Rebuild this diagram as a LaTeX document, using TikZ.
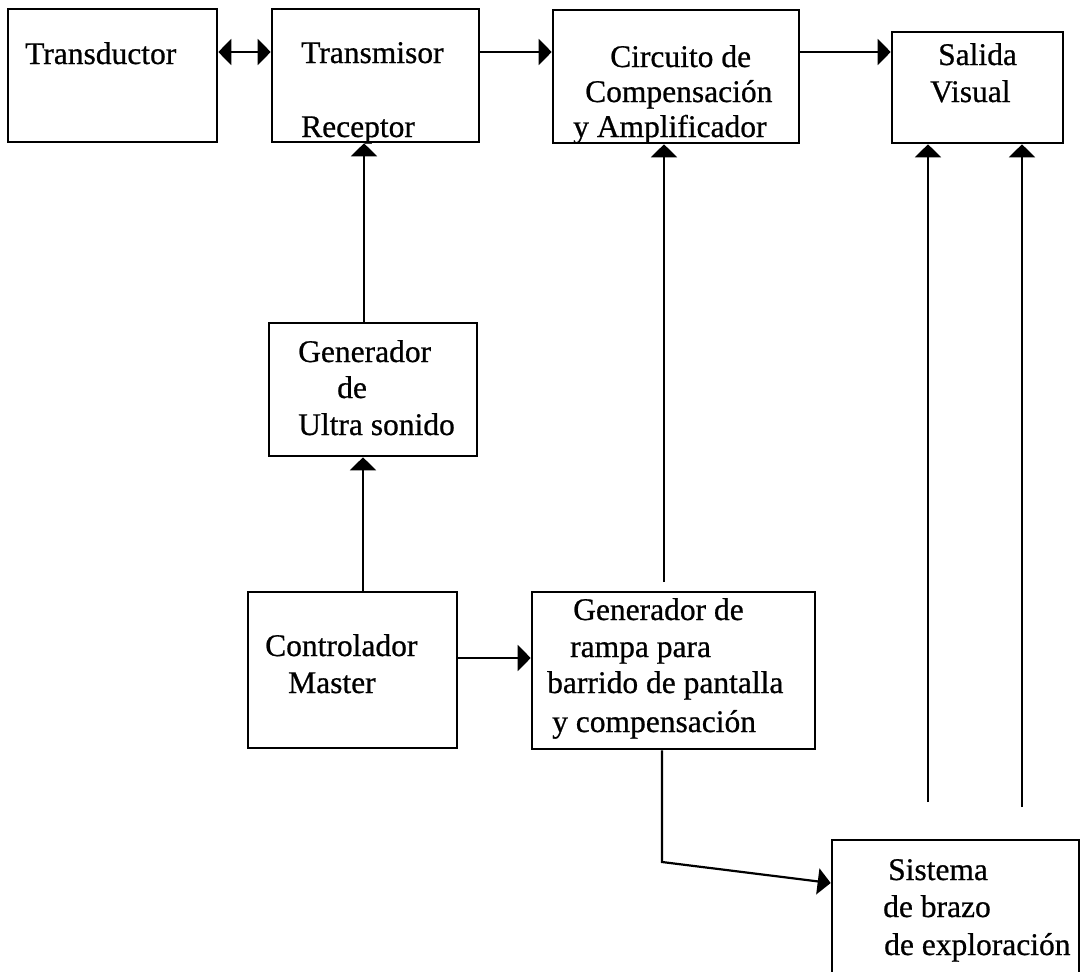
\documentclass[tikz,border=0pt]{standalone}
\usepackage{fontspec}
\setmainfont{Liberation Serif}
\newfontfamily\blocktext{Liberation Serif}[FakeBold=0.7]
\usetikzlibrary{arrows.meta}
\begin{document}
\begin{tikzpicture}[x=1pt, y=-1pt,
  blk/.style={draw, line width=2.6pt, rectangle, inner sep=0pt},
  lbl/.style={anchor=base west, inner sep=0pt, font=\blocktext\fontsize{31.5}{36}\selectfont},
  wire/.style={line width=2.2pt},
  arr/.style={wire, -{Triangle[length=13pt, width=26pt]}},
  biarr/.style={wire, {Triangle[length=13pt, width=26pt]}-{Triangle[length=13pt, width=26pt]}}]
\useasboundingbox (0,0) rectangle (1082,972);
\clip (0,0) rectangle (1082,972);

% blocks
\node[blk, minimum width=209pt, minimum height=133pt] (trans) at (112.5,75.5) {};
\node[blk, minimum width=207pt, minimum height=133pt] (txrx) at (375.5,75.5) {};
\node[blk, minimum width=246pt, minimum height=133pt] (circ) at (676,76.5) {};
\node[blk, minimum width=171pt, minimum height=111pt] (sal) at (977.5,87.5) {};
\node[blk, minimum width=208pt, minimum height=133pt] (gen) at (373,389.5) {};
\node[blk, minimum width=209pt, minimum height=156pt] (ctrl) at (352.5,670) {};
\node[blk, minimum width=283pt, minimum height=157pt] (ramp) at (673.5,670.5) {};
\node[blk, minimum width=247pt, minimum height=145pt] (sis) at (955.5,912.5) {};

% labels
\node[lbl] (tTrans) at (25,64) {Transductor};
\node[lbl] (tTx) at (301,63) {Transmisor};
\node[lbl] (tRx) at (301,137) {Receptor};
\node[lbl] (tCirc1) at (610,67) {Circuito de};
\node[lbl] (tCirc2) at (585,102) {Compensación};
\node[lbl] (tCirc3) at (573,137) {y Amplificador};
\node[lbl] (tSal1) at (938,65) {Salida};
\node[lbl] (tSal2) at (930,102) {Visual};
\node[lbl] (tGen1) at (298,362) {Generador};
\node[lbl] (tGen2) at (337,398) {de};
\node[lbl] (tGen3) at (298,435) {Ultra sonido};
\node[lbl] (tCtrl1) at (265,656) {Controlador};
\node[lbl] (tCtrl2) at (288,693) {Master};
\node[lbl] (tRamp1) at (573,620) {Generador de};
\node[lbl] (tRamp2) at (570,657) {rampa para};
\node[lbl] (tRamp3) at (547,693) {barrido de pantalla};
\node[lbl] (tRamp4) at (552,732) {y compensación};
\node[lbl] (tSis1) at (888,880) {Sistema};
\node[lbl] (tSis2) at (883,917) {de brazo};
\node[lbl] (tSis3) at (884,955) {de exploración};

% reference rows and columns for the connectors
\coordinate (row1) at (0,52);
\coordinate (row2) at (0,658);
\coordinate (row3) at (0,883);
\coordinate (colA) at (364,0);
\coordinate (colB) at (363,0);
\coordinate (rampTop) at (664,582);
\coordinate (bend) at (662,862);
\coordinate (armL) at (928,802);
\coordinate (armR) at (1022,807);

% connectors
\draw[biarr] (trans.east |- row1) -- (txrx.west |- row1);
\draw[arr] (txrx.east |- row1) -- (circ.west |- row1);
\draw[arr] (circ.east |- row1) -- (sal.west |- row1);
\draw[arr] (gen.north -| colA) -- (txrx.south -| colA);
\draw[arr] (ctrl.north -| colB) -- (gen.south -| colB);
\draw[arr] (ctrl.east |- row2) -- (ramp.west |- row2);
\draw[arr] (rampTop) -- (circ.south -| rampTop);
\draw[arr] (armL) -- (sal.south -| armL);
\draw[arr] (armR) -- (sal.south -| armR);
\draw[arr] (ramp.south -| bend) -- (bend) -- (sis.west |- row3);
\end{tikzpicture}
\end{document}
